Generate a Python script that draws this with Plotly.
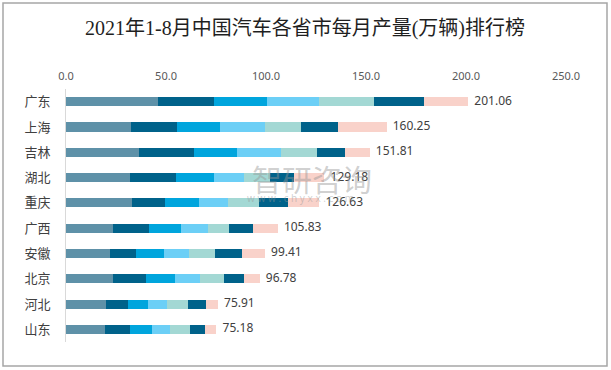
import plotly.graph_objects as go

provinces = ["广东", "上海", "吉林", "湖北", "重庆", "广西", "安徽", "北京", "河北", "山东"]
months = ["1-2月", "3月", "4月", "5月", "6月", "7月", "8月"]
totals = [201.06, 160.25, 151.81, 129.18, 126.63, 105.83, 99.41, 96.78, 75.91, 75.18]

m12 = [46.2, 32.7, 36.7, 32.2, 33.2, 23.7, 22.2, 23.7, 20.2, 19.7]
m3 = [28.0, 23.0, 27.5, 23.0, 16.5, 18.0, 13.0, 16.5, 11.0, 12.5]
m4 = [26.5, 21.5, 21.5, 19.0, 17.0, 16.0, 14.0, 14.5, 10.0, 11.0]
m5 = [26.0, 22.5, 22.0, 15.0, 14.5, 13.5, 12.5, 12.5, 9.5, 9.0]
m6 = [27.5, 18.0, 18.0, 13.0, 15.5, 10.5, 13.0, 12.0, 10.5, 10.0]
m7 = [25.0, 18.5, 14.0, 12.0, 14.5, 12.0, 13.5, 10.0, 9.0, 7.5]
m8 = [t - a - b - c - d - e - f for t, a, b, c, d, e, f in zip(totals, m12, m3, m4, m5, m6, m7)]

series = [m12, m3, m4, m5, m6, m7, m8]
colors = ["#5E91A8", "#00628A", "#00A5DD", "#6CCFF6", "#A3D8D4", "#00628A", "#F9D2CA"]

fig = go.Figure()
for name, vals, col in zip(months, series, colors):
    fig.add_trace(go.Bar(
        y=provinces, x=vals, name=name, orientation="h",
        marker=dict(color=col, line=dict(width=0)),
        hoverinfo="x+name",
    ))

fig.add_trace(go.Scatter(
    y=provinces, x=totals, mode="text",
    text=[f"  {t:.2f}" for t in totals],
    textposition="middle right",
    textfont=dict(size=12, color="#404040", family="Noto Sans, DejaVu Sans, sans-serif"),
    showlegend=False, cliponaxis=False, hoverinfo="skip",
))

fig.update_layout(
    width=611, height=370,
    margin=dict(l=66, r=45, t=89, b=28),
    barmode="stack", bargap=0.64,
    paper_bgcolor="white", plot_bgcolor="white",
    showlegend=False,
    title=dict(
        text="2021年1-8月中国汽车各省市每月产量(万辆)排行榜",
        x=(305 - 66) / 500, xref="paper", xanchor="center",
        y=1 - 28 / 370, yref="container", yanchor="middle",
        font=dict(size=20, color="#1F1F1F", family="Liberation Serif, Noto Sans CJK SC, serif"),
    ),
    xaxis=dict(
        range=[0, 250], side="top", automargin=False,
        tickvals=[0, 50, 100, 150, 200, 250],
        ticktext=["0.0", "50.0", "100.0", "150.0", "200.0", "250.0"],
        showgrid=False, zeroline=False, showline=False,
        tickfont=dict(size=11, color="#595959", family="Noto Sans, DejaVu Sans, sans-serif"),
        ticks="", ticklabelstandoff=6, fixedrange=True,
    ),
    yaxis=dict(
        autorange="reversed", automargin=False,
        showgrid=False, zeroline=False,
        showline=True, linecolor="#D9D9D9", linewidth=1,
        ticks="", ticklabelstandoff=12,
        tickfont=dict(size=13, color="#404040", family="Noto Sans CJK SC, sans-serif"),
        fixedrange=True,
    ),
    shapes=[dict(
        type="rect", xref="paper", yref="paper",
        x0=(3 - 66) / 500, x1=(607 - 66) / 500,
        y0=(370 - 28 - 366) / 253, y1=(370 - 28 - 3) / 253,
        line=dict(color="#A6A6A6", width=1.5), fillcolor="rgba(0,0,0,0)", layer="above",
    )],
    annotations=[
        dict(text="智研咨询", xref="paper", yref="paper",
             x=(312 - 66) / 500, y=(370 - 28 - 178) / 253, showarrow=False,
             font=dict(size=30, color="rgba(150,150,150,0.45)", family="Noto Sans CJK SC"),
             xanchor="center", yanchor="middle"),
        dict(text="w w w . c h y x x . c o m", xref="paper", yref="paper",
             x=(300 - 66) / 500, y=(370 - 28 - 198) / 253, showarrow=False,
             font=dict(size=10, color="rgba(150,150,150,0.45)", family="Noto Sans"),
             xanchor="center", yanchor="middle"),
    ],
)

fig.write_html(
    "out.html",
    config={"displayModeBar": False},
    post_script="document.body.style.margin='0';document.body.style.overflow='hidden';",
)
